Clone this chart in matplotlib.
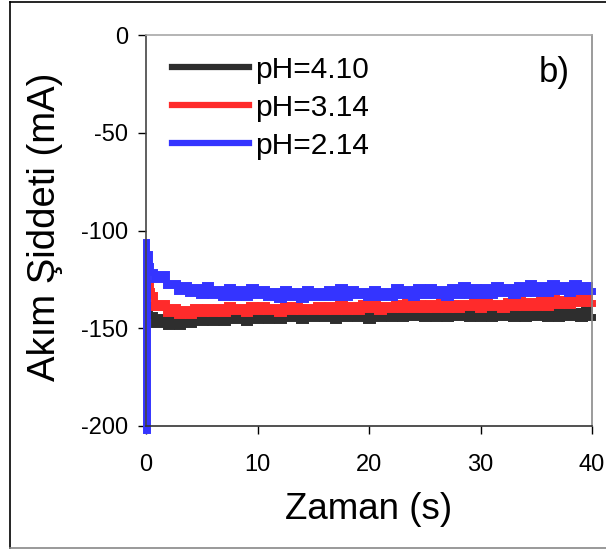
import numpy as np
import matplotlib
matplotlib.use("Agg")
import matplotlib.pyplot as plt
from matplotlib.lines import Line2D

plt.rcParams['font.family'] = ['Liberation Sans', 'DejaVu Sans']
plt.rcParams['axes.unicode_minus'] = False

# zaman ekseni (s) : 0.5 s adimla
t_main = np.arange(0.5, 40.01, 0.5)

# pH=4.10 (siyah)
t_start_410 = [0.2, 0.3]
i_start_410 = [-138, -143]
i_410 = [-143, -148, -144, -149, -145, -149, -144, -148, -143, -147,
         -142, -147, -143, -147, -142, -146, -143, -147, -142, -146,
         -141, -146, -142, -146, -141, -145, -142, -146, -141, -145,
         -141, -145, -142, -146, -141, -145, -141, -145, -142, -146,
         -141, -145, -140, -145, -141, -145, -140, -144, -141, -145,
         -140, -145, -141, -145, -140, -144, -141, -145, -140, -145,
         -141, -145, -140, -144, -141, -145, -140, -145, -141, -144,
         -140, -145, -141, -145, -140, -144, -141, -145, -140, -144]

# pH=3.14 (kirmizi)
t_start_314 = [0.3, 0.4]
i_start_314 = [-127, -131]
i_314 = [-133, -139, -137, -142, -139, -143, -140, -143, -139, -142,
         -139, -142, -139, -142, -138, -141, -139, -142, -138, -141,
         -138, -141, -139, -142, -138, -141, -138, -141, -139, -141,
         -138, -141, -138, -141, -137, -141, -138, -141, -137, -140,
         -137, -141, -138, -140, -137, -140, -136, -140, -137, -140,
         -137, -140, -136, -140, -137, -140, -137, -139, -136, -140,
         -136, -139, -137, -140, -136, -139, -135, -139, -136, -139,
         -135, -139, -134, -138, -135, -138, -134, -137, -134, -137]

# pH=2.14 (mavi)
t_start_214 = [0.0, 0.05, 0.15, 0.3]
i_start_214 = [-106, -202, -112, -118]
i_214 = [-121, -125, -122, -128, -127, -131, -128, -132, -129, -133,
         -128, -133, -130, -134, -129, -134, -130, -134, -129, -133,
         -130, -134, -131, -135, -130, -134, -131, -135, -130, -134,
         -131, -134, -130, -134, -129, -134, -130, -133, -131, -134,
         -130, -134, -131, -134, -129, -133, -130, -134, -129, -133,
         -129, -133, -130, -134, -129, -133, -128, -133, -129, -133,
         -129, -133, -128, -132, -129, -133, -128, -132, -127, -132,
         -128, -132, -127, -131, -128, -132, -127, -131, -128, -131]

labels = ['pH=4.10', 'pH=3.14', 'pH=2.14']
colors = ['#2e2e2e', '#ff2b2b', '#3434ff']

fig = plt.figure(figsize=(6.06, 5.5), dpi=100)
ax = fig.add_axes([146 / 606, 124 / 550, 446 / 606, 391 / 550])

series = [(t_start_410, i_start_410, i_410),
          (t_start_314, i_start_314, i_314),
          (t_start_214, i_start_214, i_214)]
for (ts, vs, v), lab, c in zip(series, labels, colors):
    x = np.concatenate([ts, t_main])
    y = np.concatenate([vs, v])
    ax.plot(x, y, color=c, lw=5, label=lab, clip_on=False,
            drawstyle='steps-mid', solid_joinstyle='miter')

ax.set_xlim(0, 40)
ax.set_ylim(-200, 0)
ax.set_xticks([0, 10, 20, 30, 40])
ax.set_yticks([0, -50, -100, -150, -200])
ax.tick_params(axis='x', direction='out', length=6, width=1, labelsize=17, pad=14)
ax.tick_params(axis='y', direction='out', length=6, width=1, labelsize=17, pad=7)

ax.set_xlabel('Zaman (s)', fontsize=26.5, labelpad=12)
ax.set_ylabel('Akım Şiddeti (mA)', fontsize=27.5)
ax.yaxis.set_label_coords(-0.185, 0.51)

ax.spines['top'].set_color('#a8a8a8')
ax.spines['right'].set_color('#8a8a8a')
ax.spines['left'].set_color('#444444')
ax.spines['bottom'].set_color('#333333')
for s in ax.spines.values():
    s.set_linewidth(1.2)

ax.text(0.915, 0.905, 'b)', transform=ax.transAxes, fontsize=25,
        ha='center', va='center')

leg = ax.legend(loc='upper left', bbox_to_anchor=(0.011, 1.0), frameon=False,
                fontsize=21.5, handlelength=2.6, handletextpad=0.2,
                labelspacing=0.33, borderaxespad=0.3)
for h in leg.get_lines():
    h.set_linewidth(4.5)

# dis cerceve
fig.add_artist(Line2D([10 / 606, 1.0], [1 - 2 / 550, 1 - 2 / 550], color='black', lw=1.2))
fig.add_artist(Line2D([10 / 606, 10 / 606], [2 / 550, 1 - 2 / 550], color='black', lw=1.2))
fig.add_artist(Line2D([10 / 606, 1.0], [2 / 550, 2 / 550], color='#888888', lw=1.2))

fig.savefig('out.png', dpi=100)
